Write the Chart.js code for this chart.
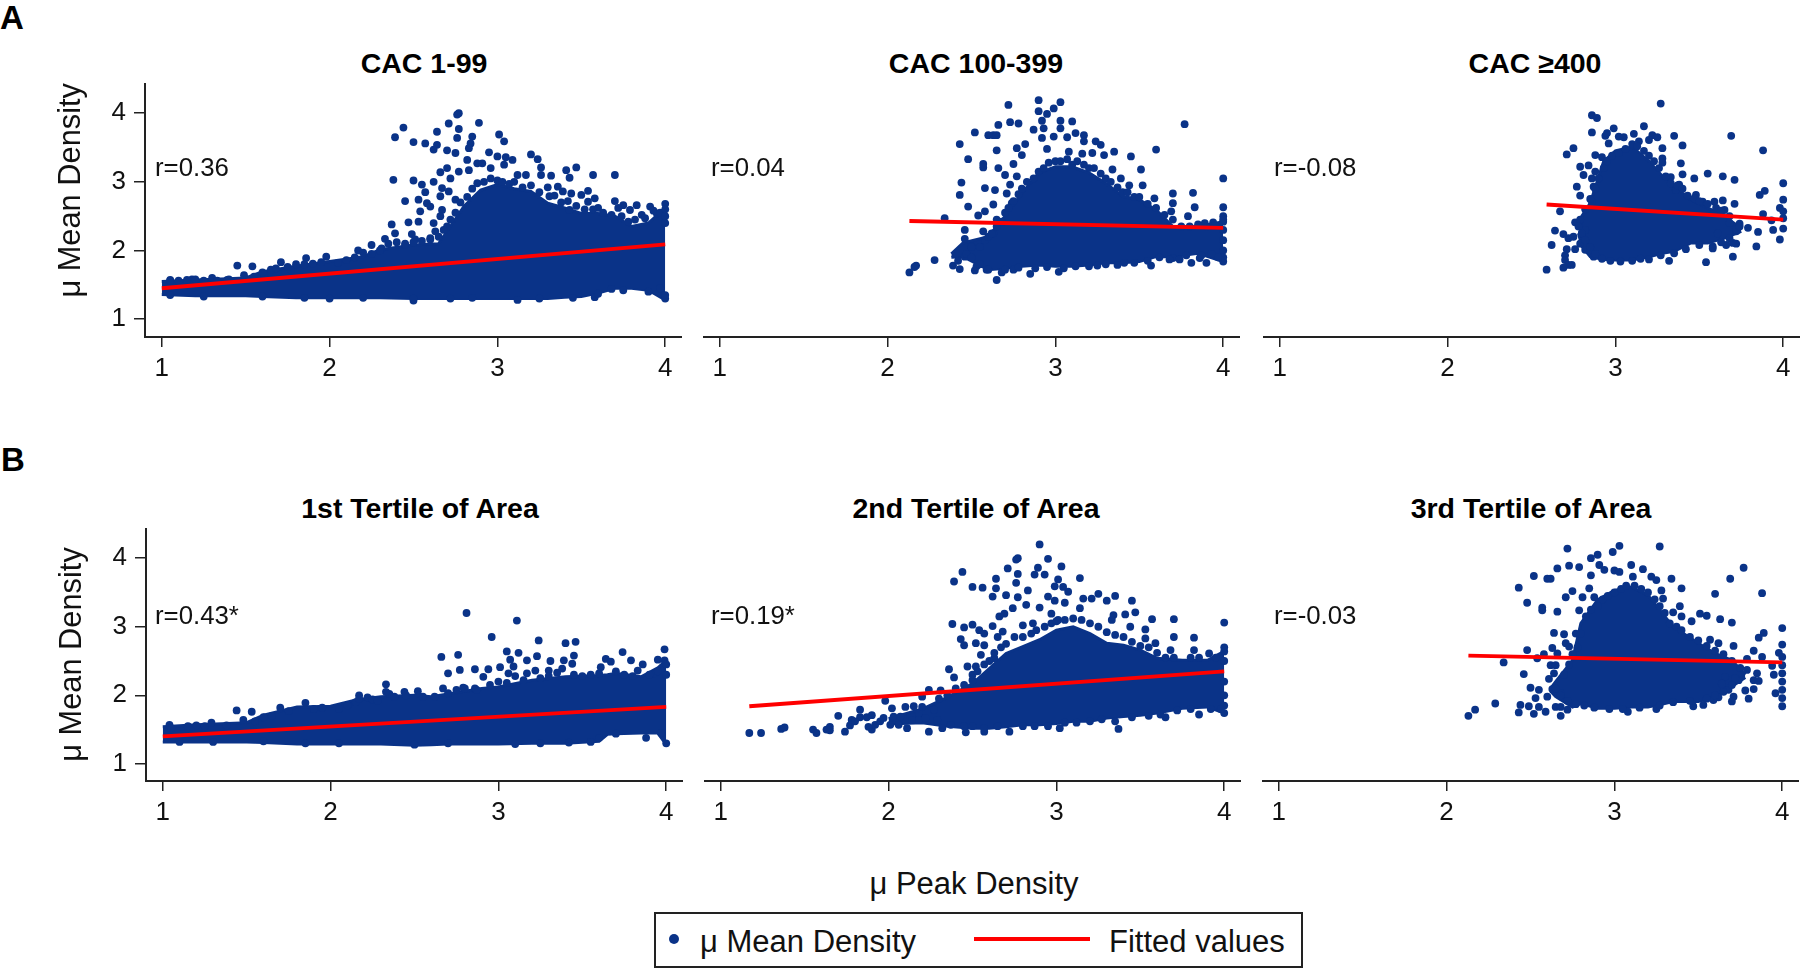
<!DOCTYPE html>
<html>
<head>
<meta charset="utf-8">
<title>Peak density vs mean density</title>
<script src="https://cdn.jsdelivr.net/npm/chart.js@4/dist/chart.umd.js"></script>
<style>
  html,body{margin:0;padding:0;background:#fff}
  #page{position:relative;width:1800px;height:969px;overflow:hidden;font-family:"Liberation Sans",Arial,sans-serif;color:#000}
  #page canvas{position:absolute}
  .t{position:absolute;white-space:nowrap;transform:translateY(-50%)}
  .c{transform:translate(-50%,-50%)}
  .title{font-size:28.5px;font-weight:bold}
  .r{font-size:25.8px;color:#111}
  .letter{font-size:33px;font-weight:bold}
  .big{font-size:31px;color:#111}
  #legend{position:absolute;left:654px;top:912px;width:645px;height:52px;border:2px solid #222}
  #dot{position:absolute;left:669px;top:934px;width:10px;height:10px;border-radius:50%;background:#0a3388}
  #dash{position:absolute;left:974px;top:937px;width:116px;height:4px;background:#f00}
</style>
</head>
<body>
<div id="page">
  <div class="t letter" style="left:0;top:18px">A</div>
  <div class="t letter" style="left:1px;top:460px">B</div>
  <div id="legend"></div><div id="dot"></div><div id="dash"></div>
  <div class="t c big" style="left:974px;top:884px">μ Peak Density</div>
  <div class="t big" style="left:700px;top:942px">μ Mean Density</div>
  <div class="t big" style="left:1109px;top:942px">Fitted values</div>
</div>
<script>
// tick labels
const xTicks = [1, 2, 3, 4];
const yTicks = [1, 2, 3, 4];
const yTitle = 'μ Mean Density';

const panelTitles = ['CAC 1-99', 'CAC 100-399', 'CAC ≥400', '1st Tertile of Area', '2nd Tertile of Area', '3rd Tertile of Area'];
const rLabels = ['r=0.36', 'r=0.04', 'r=-0.08', 'r=0.43*', 'r=0.19*', 'r=-0.03'];

// fitted lines, [x, y] ends
const a1Fit = [[1.0,1.45],[4.0,2.09]];
const a2Fit = [[2.13,2.43],[4.0,2.33]];
const a3Fit = [[2.59,2.67],[4.0,2.45]];
const b1Fit = [[1.0,1.40],[4.0,1.83]];
const b2Fit = [[1.17,1.84],[4.0,2.35]];
const b3Fit = [[2.13,2.58],[4.0,2.48]];

// solid part of each cloud, read as x / top / bottom
const a1CoreX = [1.0,1.2,1.5,1.6,1.8,2.0,2.2,2.3,2.5,2.65,2.72,2.8,2.9,3.0,3.1,3.2,3.3,3.4,3.5,3.6,3.7,3.8,3.9,4.0];
const a1CoreHi = [1.55,1.57,1.6,1.69,1.77,1.84,1.91,2.01,2.08,2.1,2.35,2.64,2.88,2.96,2.9,2.86,2.69,2.62,2.54,2.54,2.5,2.35,2.4,2.62];
const a1CoreLo = [1.36,1.34,1.34,1.33,1.31,1.31,1.31,1.31,1.30,1.30,1.30,1.3,1.3,1.3,1.3,1.3,1.3,1.32,1.33,1.38,1.45,1.45,1.42,1.28];

const a2CoreX = [2.38,2.45,2.6,2.7,2.8,2.9,3.0,3.1,3.2,3.3,3.4,3.5,3.6,3.7,3.85,4.0];
const a2CoreHi = [1.95,2.11,2.2,2.5,2.83,3.13,3.22,3.22,3.13,2.98,2.79,2.74,2.59,2.35,2.35,2.42];
const a2CoreLo = [1.9,1.91,1.72,1.74,1.77,1.79,1.77,1.77,1.79,1.82,1.82,1.84,1.91,1.91,1.96,1.84];

const a3CoreX = [2.78,2.8,2.85,2.93,3.0,3.1,3.2,3.28,3.35,3.45,3.55,3.65,3.75];
const a3CoreHi = [2.3,2.5,2.69,3.3,3.45,3.51,3.3,3.08,2.93,2.74,2.62,2.5,2.32];
const a3CoreLo = [2.25,2.06,1.91,1.87,1.86,1.86,1.91,1.96,1.99,2.11,2.11,2.18,2.28];

const b1CoreX = [1.0,1.2,1.5,1.6,1.8,2.0,2.15,2.3,2.5,2.6,2.7,2.9,3.0,3.2,3.4,3.6,3.65,3.7,3.85,3.95,4.0];
const b1CoreHi = [1.54,1.57,1.6,1.71,1.83,1.84,1.93,1.98,2.0,1.98,2.02,2.1,2.12,2.22,2.27,2.29,2.3,2.32,2.27,2.4,2.51];
const b1CoreLo = [1.32,1.32,1.32,1.31,1.29,1.29,1.29,1.29,1.27,1.28,1.29,1.29,1.29,1.3,1.3,1.33,1.43,1.44,1.45,1.45,1.28];

const b2CoreX = [2.0,2.2,2.35,2.5,2.6,2.7,2.8,2.9,3.0,3.1,3.2,3.3,3.4,3.5,3.6,3.75,3.9,4.0];
const b2CoreHi = [1.66,1.8,1.97,2.17,2.39,2.61,2.71,2.81,2.95,3.0,2.9,2.76,2.73,2.66,2.54,2.51,2.51,2.64];
const b2CoreLo = [1.58,1.6,1.55,1.52,1.52,1.54,1.57,1.57,1.59,1.62,1.62,1.67,1.69,1.71,1.74,1.81,1.83,1.74];

const b3CoreX = [2.62,2.65,2.75,2.8,2.9,3.0,3.1,3.2,3.3,3.35,3.5,3.6,3.7,3.78];
const b3CoreHi = [2.1,2.2,2.51,3.05,3.39,3.53,3.58,3.46,3.15,3.0,2.76,2.61,2.51,2.3];
const b3CoreLo = [2.06,1.98,1.83,1.88,1.81,1.81,1.83,1.83,1.88,1.91,1.91,1.98,2.13,2.26];

// dots along the rough edge of the solid part, [x, y]
const a1Rim = [[1.05,1.56],[1.1,1.56],[1.15,1.57],[1.2,1.58],[1.25,1.56],[1.33,1.56],[1.4,1.58],[1.55,1.62],[1.6,1.68],[1.65,1.72],[1.68,1.74],[1.75,1.76],[1.8,1.8],[1.85,1.8],[1.9,1.81],[1.95,1.83],[2.05,1.82],[2.1,1.86],[2.15,1.9],[2.2,1.97],[2.25,1.95],[2.3,2.0],[2.35,2.1],[2.4,2.12],[2.45,2.1],[2.5,2.12],[2.55,2.14],[2.6,2.18],[2.65,2.2],[2.68,2.3],[2.72,2.45],[2.75,2.55],[2.78,2.7],[2.82,2.78],[2.85,2.9],[2.88,2.98],[2.92,3.0],[2.96,3.05],[3.0,3.02],[3.03,3.0],[3.07,2.97],[3.1,3.0],[3.15,2.92],[3.2,2.95],[3.25,2.85],[3.3,2.92],[3.34,2.8],[3.38,2.7],[3.42,2.72],[3.47,2.65],[3.52,2.6],[3.57,2.6],[3.63,2.55],[3.68,2.52],[3.74,2.5],[3.78,2.42],[3.82,2.45],[3.88,2.47],[3.93,2.58],[3.97,2.55],[4.0,2.6],[4.0,2.5],[4.0,2.4],[1.05,1.35],[1.25,1.33],[1.6,1.33],[1.85,1.31],[2.0,1.3],[2.2,1.31],[2.5,1.27],[2.5,1.3],[2.72,1.3],[2.85,1.31],[3.12,1.28],[3.25,1.3],[3.45,1.31],[3.58,1.32],[3.6,1.37],[3.68,1.44],[3.75,1.42],[3.9,1.4],[3.97,1.45],[4.0,1.3],[4.0,1.35]];

const a2Rim = [[2.47,1.95],[2.5,1.9],[2.5,2.05],[2.53,1.77],[2.55,1.8],[2.55,2.05],[2.58,2.15],[2.6,2.2],[2.62,2.25],[2.65,2.35],[2.68,2.42],[2.7,2.55],[2.72,2.62],[2.75,2.72],[2.78,2.82],[2.8,2.9],[2.83,3.0],[2.87,3.05],[2.9,3.15],[2.93,3.2],[2.96,3.28],[3.0,3.3],[3.03,3.3],[3.07,3.33],[3.1,3.25],[3.13,3.3],[3.17,3.25],[3.2,3.2],[3.23,3.2],[3.27,3.12],[3.3,3.05],[3.33,3.0],[3.37,2.92],[3.4,2.85],[3.43,2.85],[3.47,2.78],[3.5,2.78],[3.55,2.68],[3.6,2.62],[3.65,2.52],[3.7,2.45],[3.75,2.35],[3.8,2.35],[3.85,2.38],[3.9,2.35],[3.95,2.36],[4.0,2.45],[4.0,2.3],[4.0,2.15],[4.0,2.0],[4.0,1.9],[2.6,1.72],[2.7,1.72],[2.78,1.75],[2.88,1.74],[2.95,1.76],[3.05,1.74],[3.12,1.77],[3.2,1.77],[3.3,1.8],[3.37,1.79],[3.47,1.82],[3.55,1.85],[3.62,1.9],[3.68,1.87],[3.78,1.93],[3.87,1.93],[3.93,1.95],[3.97,1.9]];

const a3Rim = [[2.82,2.6],[2.85,2.75],[2.88,2.9],[2.9,3.05],[2.93,3.2],[2.95,3.3],[2.98,3.38],[3.02,3.42],[3.06,3.48],[3.1,3.55],[3.13,3.52],[3.17,3.45],[3.2,3.38],[3.23,3.3],[3.26,3.2],[3.3,3.08],[3.33,2.98],[3.37,2.95],[3.4,2.9],[3.43,2.8],[3.47,2.76],[3.5,2.72],[3.55,2.68],[3.6,2.62],[3.63,2.58],[3.68,2.5],[2.79,2.45],[2.78,2.35],[2.8,2.25],[2.82,2.15],[2.85,2.05],[2.88,1.95],[2.92,1.88],[2.97,1.85],[3.03,1.84],[3.1,1.85],[3.15,1.88],[3.2,1.87],[3.27,1.93],[3.35,1.96],[3.42,2.02],[3.5,2.08],[3.58,2.03],[3.63,2.12],[3.68,2.18],[3.72,2.3],[3.68,2.4],[3.74,2.35]];

const b1Rim = [[1.05,1.52],[1.15,1.55],[1.2,1.56],[1.25,1.55],[1.38,1.56],[1.55,1.62],[1.6,1.68],[1.65,1.7],[1.75,1.77],[1.9,1.8],[1.95,1.82],[2.05,1.8],[2.1,1.85],[2.15,1.9],[2.17,1.95],[2.28,1.92],[2.33,2.05],[2.38,1.98],[2.45,2.0],[2.55,1.98],[2.62,1.98],[2.7,2.03],[2.75,2.08],[2.8,2.1],[2.87,2.08],[2.95,2.15],[3.0,2.2],[3.05,2.18],[3.1,2.28],[3.15,2.22],[3.25,2.25],[3.3,2.28],[3.35,2.33],[3.45,2.3],[3.5,2.28],[3.55,2.3],[3.6,2.32],[3.7,2.35],[3.75,2.3],[3.8,2.28],[3.9,2.3],[3.95,2.35],[4.0,2.45],[4.0,2.3],[1.1,1.32],[1.3,1.32],[1.6,1.33],[1.85,1.3],[2.05,1.3],[2.5,1.28],[2.7,1.3],[3.1,1.29],[3.25,1.3],[3.42,1.31],[3.55,1.32],[3.6,1.38],[3.7,1.44],[3.88,1.38],[3.97,1.45],[4.0,1.3]];

const b2Rim = [[2.3,1.95],[2.35,2.0],[2.4,2.1],[2.45,2.15],[2.5,2.3],[2.53,2.35],[2.57,2.45],[2.6,2.5],[2.63,2.62],[2.67,2.7],[2.7,2.75],[2.75,2.85],[2.8,2.85],[2.85,2.9],[2.88,2.95],[2.93,3.0],[2.97,3.05],[3.0,3.08],[3.05,3.1],[3.1,3.12],[3.15,3.1],[3.2,3.05],[3.25,3.0],[3.3,2.92],[3.35,2.88],[3.4,2.85],[3.45,2.78],[3.5,2.72],[3.55,2.7],[3.6,2.62],[3.65,2.55],[3.7,2.55],[3.8,2.55],[3.85,2.55],[3.95,2.55],[4.0,2.7],[4.0,2.5],[4.0,2.2],[4.0,2.0],[4.0,1.85],[2.45,1.55],[2.5,1.55],[2.57,1.52],[2.65,1.55],[2.8,1.55],[2.87,1.55],[2.95,1.55],[3.05,1.6],[3.12,1.6],[3.2,1.62],[3.27,1.65],[3.35,1.62],[3.45,1.68],[3.55,1.7],[3.62,1.72],[3.72,1.78],[3.8,1.8],[3.92,1.8],[3.98,1.8]];

const b3Rim = [[2.78,2.7],[2.8,2.9],[2.83,3.15],[2.86,3.25],[2.9,3.3],[2.93,3.4],[2.96,3.45],[3.0,3.5],[3.04,3.55],[3.07,3.6],[3.12,3.6],[3.16,3.55],[3.2,3.5],[3.24,3.4],[3.27,3.3],[3.3,3.2],[3.33,3.05],[3.37,3.0],[3.4,2.95],[3.45,2.85],[3.5,2.8],[3.55,2.72],[3.6,2.65],[3.65,2.6],[3.7,2.5],[3.75,2.4],[3.72,2.25],[3.7,2.15],[3.65,2.05],[3.6,2.0],[3.55,1.95],[3.45,1.92],[3.35,1.9],[3.27,1.85],[3.15,1.82],[3.05,1.8],[2.97,1.8],[2.88,1.82],[2.82,1.85],[2.77,1.87],[2.72,1.92],[2.68,2.0],[2.65,2.1],[2.7,2.3],[2.73,2.45],[2.75,2.6]];

// separate dots around the solid part, [x, y]
const a1Points = [[2.77,4.0],[2.76,3.98],[2.71,3.85],[2.89,3.86],[2.44,3.79],[2.39,3.65],[2.77,3.77],[2.64,3.73],[3.01,3.69],[2.85,3.66],[2.76,3.64],[3.04,3.59],[2.5,3.58],[2.57,3.56],[2.64,3.54],[2.84,3.56],[2.83,3.49],[2.62,3.47],[2.7,3.46],[2.75,3.42],[2.95,3.43],[3.2,3.4],[3.24,3.33],[3.0,3.37],[3.05,3.36],[3.09,3.32],[2.82,3.32],[2.88,3.27],[2.91,3.27],[3.04,3.25],[2.96,3.2],[3.26,3.21],[3.41,3.17],[3.47,3.21],[3.43,3.06],[3.57,3.1],[3.7,3.1],[2.7,3.2],[2.66,3.14],[2.83,3.17],[2.77,3.15],[3.12,3.1],[3.17,3.1],[3.26,3.1],[3.32,3.09],[2.38,3.03],[2.5,3.02],[2.62,3.0],[2.55,2.96],[2.57,2.85],[2.72,3.05],[2.67,2.91],[2.45,2.72],[2.53,2.74],[2.58,2.69],[2.54,2.57],[2.6,2.64],[2.66,2.79],[2.71,2.86],[2.75,2.74],[2.67,2.59],[2.47,2.41],[2.37,2.38],[2.39,2.25],[2.53,2.42],[2.62,2.4],[2.66,2.5],[2.63,2.28],[2.7,2.35],[2.49,2.24],[2.33,2.17],[2.25,2.08],[2.31,2.03],[2.51,2.16],[2.6,2.16],[2.45,2.08],[3.36,2.93],[3.44,2.83],[3.5,2.81],[3.54,2.87],[3.54,2.71],[3.58,2.76],[3.31,2.79],[3.39,2.86],[3.7,2.72],[3.75,2.66],[3.83,2.66],[3.72,2.62],[3.79,2.59],[3.91,2.64],[4.0,2.68],[3.86,2.52],[3.95,2.54],[3.6,2.62],[3.43,2.59],[1.05,1.57],[1.3,1.6],[1.45,1.78],[1.54,1.77],[1.49,1.64],[1.71,1.83],[1.86,1.89],[1.98,1.91],[1.39,1.57],[1.18,1.58],[2.17,2.0],[1.77,1.72],[1.61,1.65]];

const a2Points = [[2.9,4.19],[3.03,4.16],[2.72,4.12],[2.99,4.07],[2.9,4.03],[2.95,3.99],[2.92,3.89],[3.03,3.89],[3.1,3.88],[2.73,3.87],[2.78,3.85],[2.66,3.83],[3.77,3.84],[3.03,3.78],[2.87,3.76],[2.93,3.78],[2.52,3.72],[2.6,3.68],[2.63,3.68],[2.65,3.68],[3.12,3.71],[3.17,3.68],[3.07,3.65],[2.92,3.64],[2.99,3.66],[2.43,3.55],[2.82,3.55],[3.24,3.59],[3.17,3.59],[3.27,3.54],[2.77,3.49],[2.65,3.46],[2.95,3.48],[3.6,3.47],[3.35,3.44],[3.29,3.39],[3.45,3.37],[2.48,3.33],[2.8,3.39],[3.22,3.42],[3.16,3.41],[3.08,3.44],[2.75,3.26],[2.57,3.26],[2.57,3.21],[2.66,3.2],[3.51,3.18],[3.34,3.18],[2.7,3.1],[2.77,3.08],[4.0,3.05],[2.44,2.99],[2.58,2.91],[2.64,2.88],[2.73,2.96],[3.39,3.05],[3.52,2.95],[3.44,2.95],[2.43,2.81],[3.7,2.83],[3.82,2.84],[3.59,2.76],[2.71,2.83],[2.74,2.69],[2.48,2.64],[2.63,2.67],[3.7,2.69],[3.83,2.63],[4.0,2.63],[4.0,2.5],[4.0,2.42],[3.79,2.5],[2.34,2.47],[2.54,2.51],[2.58,2.57],[2.65,2.45],[3.69,2.57],[2.13,1.68],[2.17,1.78],[2.16,1.76],[2.28,1.86],[2.39,1.78],[2.42,1.85],[2.46,1.91],[2.43,1.73],[2.52,1.71],[2.59,1.72],[2.65,1.57],[2.68,1.68],[2.85,1.66],[3.02,1.69],[2.75,1.72],[2.46,2.3],[2.46,2.17],[3.57,1.78],[3.81,1.82],[3.9,1.82],[4.0,1.84],[3.25,1.78],[3.41,1.82],[3.7,1.89],[3.74,1.87],[3.86,1.89],[2.5,2.06],[2.57,2.28],[2.63,2.25],[3.89,2.4],[3.94,2.41]];

const a3Points = [[3.27,4.14],[2.86,3.97],[2.89,3.93],[2.86,3.72],[2.99,3.78],[3.17,3.81],[2.94,3.67],[2.95,3.71],[2.96,3.56],[3.02,3.66],[3.05,3.65],[3.11,3.7],[3.22,3.68],[3.25,3.65],[3.35,3.67],[3.69,3.67],[3.4,3.53],[3.14,3.59],[3.2,3.61],[3.28,3.49],[3.88,3.46],[2.75,3.49],[2.71,3.4],[2.88,3.39],[2.92,3.36],[3.28,3.34],[3.28,3.28],[3.39,3.27],[2.79,3.22],[2.84,3.24],[2.81,3.1],[2.88,3.15],[2.86,3.05],[3.4,3.11],[3.33,3.07],[3.47,3.05],[3.55,3.12],[3.64,3.08],[3.71,3.03],[2.77,2.93],[2.87,2.93],[4.0,2.98],[3.89,2.87],[3.86,2.81],[2.79,2.8],[3.38,2.96],[3.36,2.88],[3.48,2.81],[4.0,2.74],[3.71,2.68],[2.86,2.71],[3.59,2.71],[3.52,2.71],[3.64,2.73],[3.65,2.59],[3.98,2.62],[4.0,2.57],[2.67,2.57],[3.88,2.53],[4.0,2.47],[3.93,2.44],[4.0,2.32],[3.94,2.3],[3.74,2.39],[3.79,2.33],[3.85,2.27],[3.72,2.28],[3.98,2.16],[3.84,2.06],[3.7,2.11],[3.72,2.1],[3.66,2.08],[3.61,2.25],[3.58,2.06],[3.7,1.91],[3.54,1.83],[3.32,1.85],[2.64,2.29],[2.69,2.24],[2.72,2.18],[2.75,2.2],[2.62,2.08],[2.71,2.02],[2.76,2.02],[2.79,2.1],[2.82,2.01],[2.7,1.93],[2.7,1.86],[2.72,1.79],[2.74,1.79],[2.69,1.75],[2.59,1.72],[2.76,2.41],[2.8,2.25],[2.82,2.3],[2.87,1.91]];

const b1Points = [[2.81,3.2],[3.11,3.09],[2.96,2.85],[3.24,2.8],[3.4,2.76],[3.46,2.78],[3.74,2.63],[3.99,2.67],[3.05,2.64],[3.12,2.62],[2.76,2.59],[2.66,2.56],[3.23,2.57],[3.07,2.52],[3.17,2.51],[3.45,2.58],[3.39,2.51],[3.31,2.5],[3.64,2.53],[3.79,2.51],[3.95,2.52],[3.99,2.51],[2.7,2.32],[2.77,2.37],[2.86,2.38],[2.94,2.38],[3.01,2.41],[3.09,2.42],[2.91,2.27],[3.3,2.36],[3.38,2.39],[3.44,2.46],[3.61,2.41],[3.67,2.49],[3.86,2.45],[3.83,2.36],[3.93,2.32],[3.17,2.32],[3.22,2.36],[3.06,2.32],[2.33,2.16],[2.17,2.0],[2.22,1.97],[2.25,1.94],[2.35,2.02],[2.44,2.05],[2.52,2.06],[2.67,2.1],[2.79,2.11],[2.86,2.1],[1.04,1.57],[1.29,1.6],[1.44,1.78],[1.53,1.76],[1.48,1.64],[1.7,1.82],[1.85,1.89]];

const b2Points = [[1.17,1.45],[1.24,1.45],[1.36,1.51],[1.38,1.53],[1.55,1.5],[1.57,1.45],[1.63,1.5],[1.65,1.54],[1.65,1.49],[1.7,1.7],[1.74,1.47],[1.78,1.64],[1.77,1.56],[1.83,1.79],[1.83,1.68],[1.87,1.68],[1.9,1.71],[1.9,1.5],[1.92,1.57],[1.95,1.62],[1.98,1.92],[2.01,1.57],[2.02,1.81],[2.03,1.69],[2.06,1.57],[2.1,1.83],[2.11,1.52],[2.15,1.84],[2.18,1.74],[2.2,1.98],[2.18,1.64],[2.24,1.47],[2.24,2.08],[2.27,1.79],[2.31,2.07],[2.32,1.52],[2.14,1.64],[2.07,1.69],[1.97,1.67],[1.88,1.54],[1.8,1.62],[2.2,1.83],[2.22,1.67],[2.29,1.64],[2.37,1.57],[2.46,1.46],[2.57,1.47],[2.72,1.47],[3.02,1.52],[3.37,1.51],[3.65,1.68],[3.85,1.72],[4.0,1.74],[2.9,4.2],[2.77,4.0],[2.76,3.98],[2.95,3.99],[3.03,3.88],[2.71,3.85],[2.89,3.86],[2.77,3.77],[2.44,3.8],[2.39,3.66],[2.64,3.7],[2.87,3.76],[2.93,3.76],[3.14,3.71],[3.01,3.69],[2.76,3.64],[2.5,3.58],[2.56,3.57],[2.64,3.56],[2.83,3.53],[2.99,3.59],[3.04,3.58],[2.62,3.44],[2.7,3.46],[2.77,3.43],[2.95,3.44],[3.07,3.51],[3.25,3.48],[3.16,3.41],[3.35,3.45],[3.45,3.38],[3.3,3.38],[3.21,3.41],[2.99,3.38],[2.82,3.32],[3.05,3.35],[3.47,3.21],[3.57,3.11],[3.7,3.11],[4.0,3.06],[3.41,3.18],[3.34,3.17],[2.38,3.04],[2.45,2.99],[2.5,3.03],[2.62,3.01],[2.66,3.15],[2.74,3.27],[2.9,3.28],[2.97,3.19],[3.14,3.27],[2.69,3.19],[2.54,2.95],[2.57,2.9],[2.43,2.82],[2.45,2.73],[2.52,2.76],[2.57,2.73],[2.65,2.85],[2.68,2.93],[2.8,3.02],[2.86,3.05],[3.01,3.1],[3.53,2.96],[3.33,3.1],[3.44,3.0],[3.7,2.85],[3.82,2.84],[3.59,2.76],[3.53,2.83],[4.0,2.64],[3.91,2.61],[3.82,2.66],[3.68,2.66],[2.36,2.38],[2.47,2.42],[2.39,2.26],[2.52,2.42],[2.55,2.59],[2.63,2.54],[2.5,2.22]];

const b3Points = [[3.03,4.18],[3.27,4.17],[2.72,4.14],[2.99,4.09],[2.9,4.05],[2.86,4.0],[2.91,3.9],[2.66,3.85],[2.73,3.89],[2.79,3.87],[3.77,3.86],[3.1,3.9],[3.17,3.84],[3.0,3.82],[2.52,3.74],[2.86,3.75],[3.69,3.7],[3.34,3.7],[2.6,3.7],[2.62,3.7],[2.94,3.83],[3.03,3.8],[3.11,3.73],[3.22,3.73],[3.25,3.68],[3.4,3.56],[3.28,3.53],[2.43,3.57],[2.85,3.56],[3.6,3.48],[3.88,3.49],[2.75,3.52],[2.71,3.43],[2.81,3.43],[2.88,3.43],[3.29,3.41],[2.48,3.35],[2.57,3.28],[2.57,3.24],[2.66,3.22],[3.39,3.3],[2.79,3.24],[3.35,3.21],[3.51,3.19],[3.55,3.16],[3.63,3.11],[3.7,3.06],[3.46,3.08],[3.4,3.15],[4.0,2.98],[3.89,2.91],[3.86,2.84],[2.64,2.91],[2.7,2.89],[2.77,2.9],[2.71,2.76],[2.73,2.71],[3.57,2.81],[3.62,2.76],[3.71,2.72],[4.0,2.74],[3.83,2.65],[3.88,2.56],[3.98,2.62],[4.0,2.56],[2.48,2.66],[2.63,2.69],[2.58,2.6],[2.54,2.54],[2.66,2.61],[2.34,2.48],[3.79,2.53],[4.0,2.44],[4.0,2.32],[3.95,2.3],[3.94,2.43],[2.46,2.31],[2.62,2.44],[2.65,2.44],[2.61,2.24],[2.64,2.32],[3.79,2.37],[3.85,2.32],[3.83,2.22],[3.86,2.21],[3.74,2.22],[3.66,2.27],[3.83,2.09],[3.78,2.07],[3.8,1.95],[3.71,1.98],[3.7,1.91],[3.62,1.97],[3.59,1.93],[3.53,1.86],[3.47,1.84],[4.0,2.2],[4.0,2.08],[4.0,1.96],[4.0,1.84],[3.96,2.03],[3.25,1.8],[3.08,1.76],[2.5,2.11],[2.55,2.08],[2.63,2.09],[2.68,2.03],[2.53,1.96],[2.6,1.98],[2.44,1.86],[2.49,1.84],[2.43,1.75],[2.52,1.73],[2.59,1.76],[2.65,1.83],[2.68,1.7],[2.72,1.79],[2.29,1.88],[2.17,1.79],[2.13,1.7],[2.55,1.83],[2.68,1.83],[3.64,2.17],[3.68,2.08]];

const blue = '#0a3388', red = '#ff0000', ink = '#222';
const pairs = a => a.map(p => ({x:p[0], y:p[1]}));
const zip = (xs, ys) => xs.map((x,i) => ({x, y:ys[i]}));

// axis left/right/top/bottom in page pixels, titles and r label positions
const layout = [
  {l:145,r:682,t:83,b:337,tx:424,ty:63,rx:155,ry:167,pts:a1Points.concat(a1Rim),fit:a1Fit,cx:a1CoreX,hi:a1CoreHi,lo:a1CoreLo,yMin:0.74,yAlign:'end'},
  {l:703,r:1240,t:83,b:337,tx:976,ty:63,rx:711,ry:167,pts:a2Points.concat(a2Rim),fit:a2Fit,cx:a2CoreX,hi:a2CoreHi,lo:a2CoreLo,yMin:0.74},
  {l:1263,r:1800,t:83,b:337,tx:1535,ty:63,rx:1274,ry:167,pts:a3Points.concat(a3Rim),fit:a3Fit,cx:a3CoreX,hi:a3CoreHi,lo:a3CoreLo,yMin:0.74},
  {l:146,r:683,t:528,b:781,tx:420,ty:508,rx:155,ry:615,pts:b1Points.concat(b1Rim),fit:b1Fit,cx:b1CoreX,hi:b1CoreHi,lo:b1CoreLo,yMin:0.75,yAlign:'center'},
  {l:704,r:1241,t:528,b:781,tx:976,ty:508,rx:711,ry:615,pts:b2Points.concat(b2Rim),fit:b2Fit,cx:b2CoreX,hi:b2CoreHi,lo:b2CoreLo,yMin:0.75},
  {l:1262,r:1799,t:528,b:781,tx:1531,ty:508,rx:1274,ry:615,pts:b3Points.concat(b3Rim),fit:b3Fit,cx:b3CoreX,hi:b3CoreHi,lo:b3CoreLo,yMin:0.75}
];

const page = document.getElementById('page');
const yWidth = 100, xHeight = 50;

function addText(cls, text, x, y) {
  const el = document.createElement('div');
  el.className = cls; el.textContent = text;
  el.style.left = x+'px'; el.style.top = y+'px';
  page.appendChild(el);
}

function drawPanel(p, i) {
  const hasY = !!p.yAlign;
  const left = hasY ? p.l-yWidth : p.l;
  const cv = document.createElement('canvas');
  cv.width = p.r-left; cv.height = p.b-p.t+xHeight;
  cv.style.left = left+'px'; cv.style.top = p.t+'px';
  page.appendChild(cv);
  addText('t c title', panelTitles[i], p.tx, p.ty);
  addText('t r', rLabels[i], p.rx, p.ry);

  new Chart(cv, {
    type:'line',
    data:{datasets:[
      {data:pairs(p.fit),borderColor:red,borderWidth:3.8,pointRadius:0,fill:false,order:1},
      {data:pairs(p.pts),showLine:false,pointRadius:3.9,pointBackgroundColor:blue,pointBorderWidth:0,order:2},
      {data:zip(p.cx,p.hi),borderColor:blue,backgroundColor:blue,borderWidth:3,pointRadius:0,tension:0,fill:'+1',order:3},
      {data:zip(p.cx,p.lo),borderColor:blue,borderWidth:3,pointRadius:0,tension:0,fill:false,order:3}
    ]},
    options:{
      responsive:false,animation:false,
      layout:{padding:0,autoPadding:false},
      plugins:{legend:{display:false},tooltip:{enabled:false},title:{display:false}},
      scales:{
        x:{type:'linear',min:0.9,max:4.1,
          afterBuildTicks(s){s.ticks=xTicks.map(v=>({value:v}));},
          afterFit(s){s.height=xHeight;s.paddingLeft=0;s.paddingRight=0;},
          border:{display:true,color:ink,width:2},
          grid:{display:true,drawOnChartArea:false,drawTicks:true,tickLength:10,color:ink,lineWidth:1.5},
          ticks:{color:'#111',font:{family:'"Liberation Sans"',size:26},padding:6,maxRotation:0,callback:v=>v}},
        y:{type:'linear',display:hasY,min:p.yMin,max:4.44,
          afterBuildTicks(s){s.ticks=yTicks.map(v=>({value:v}));},
          afterFit(s){s.width=hasY?yWidth:0;s.paddingTop=0;s.paddingBottom=0;},
          border:{display:true,color:ink,width:2},
          grid:{display:true,drawOnChartArea:false,drawTicks:true,tickLength:11,color:ink,lineWidth:1.5},
          ticks:{color:'#111',font:{family:'"Liberation Sans"',size:26},padding:8,callback:v=>v},
          title:{display:true,text:yTitle,align:p.yAlign||'center',color:'#111',font:{family:'"Liberation Sans"',size:30.8},padding:{top:8,bottom:0}}}
      }
    }
  });
}

layout.forEach(drawPanel);
</script>
</body>
</html>
